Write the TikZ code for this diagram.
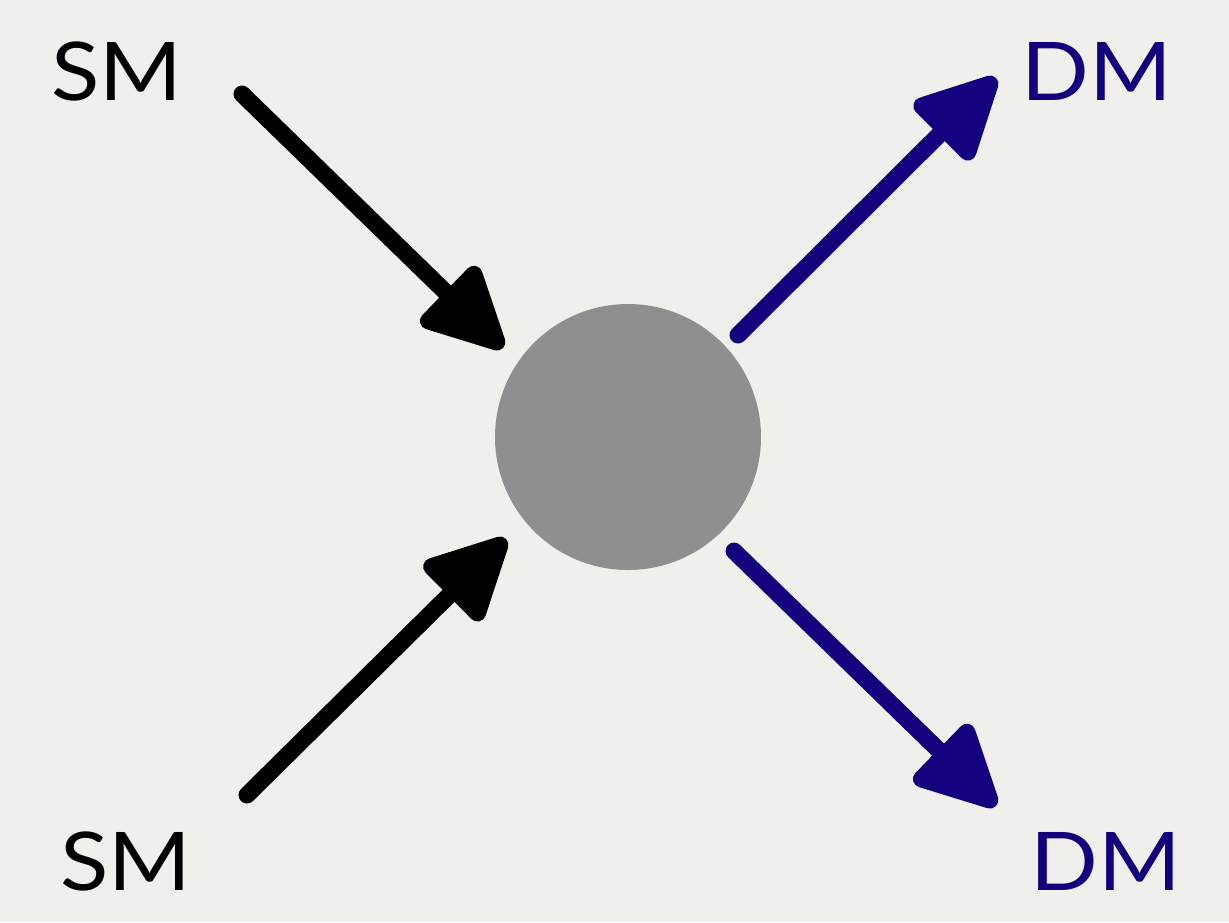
\documentclass[tikz,border=0pt]{standalone}
\usepackage{fontspec}
\setmainfont{Lato}
\usetikzlibrary{arrows.meta}
\definecolor{paper}{HTML}{F0EFEB}
\definecolor{navy}{HTML}{12007C}
\definecolor{blobgrey}{HTML}{8F8F8F}
\newcommand{\widelabel}[1]{\scalebox{1.1}[1]{#1}}
\begin{document}
\begin{tikzpicture}[x=0.5pt,y=-0.5pt,
  lbl/.style={inner sep=0pt,font=\fontsize{40.5}{44}\selectfont},
  brush/.style={line width=8.5pt,line cap=round,
    -{Triangle[length=46pt,width=44pt,round]}},
  sm/.style={brush,black},
  dm/.style={brush,navy}]
  % paper background
  \fill[paper] (0,0) rectangle (1229,922);
  \useasboundingbox (0,0) rectangle (1229,922);
  % central vertex
  \node (c) [circle,fill=blobgrey,minimum size=133pt,inner sep=0pt] at (628,437) {};
  % particle labels
  \node (sm1) [lbl] at (117,71) {\widelabel{SM}};
  \node (sm2) [lbl] at (126,861) {\widelabel{SM}};
  \node (dm1) [lbl,text=navy] at (1097,71) {\widelabel{DM}};
  \node (dm2) [lbl,text=navy] at (1106,861) {\widelabel{DM}};
  % arrow end points
  \coordinate (a1s) at (242,94);
  \coordinate (a1e) at (503,348);
  \coordinate (a2s) at (247,795);
  \coordinate (a2e) at (506,539);
  \coordinate (a3s) at (738,335);
  \coordinate (a3e) at (996,78);
  \coordinate (a4s) at (734,551);
  \coordinate (a4e) at (996,806);
  % incoming standard-model lines
  \draw[sm] (a1s) -- (a1e);
  \draw[sm] (a2s) -- (a2e);
  % outgoing dark-matter lines
  \draw[dm] (a3s) -- (a3e);
  \draw[dm] (a4s) -- (a4e);
\end{tikzpicture}
\end{document}
